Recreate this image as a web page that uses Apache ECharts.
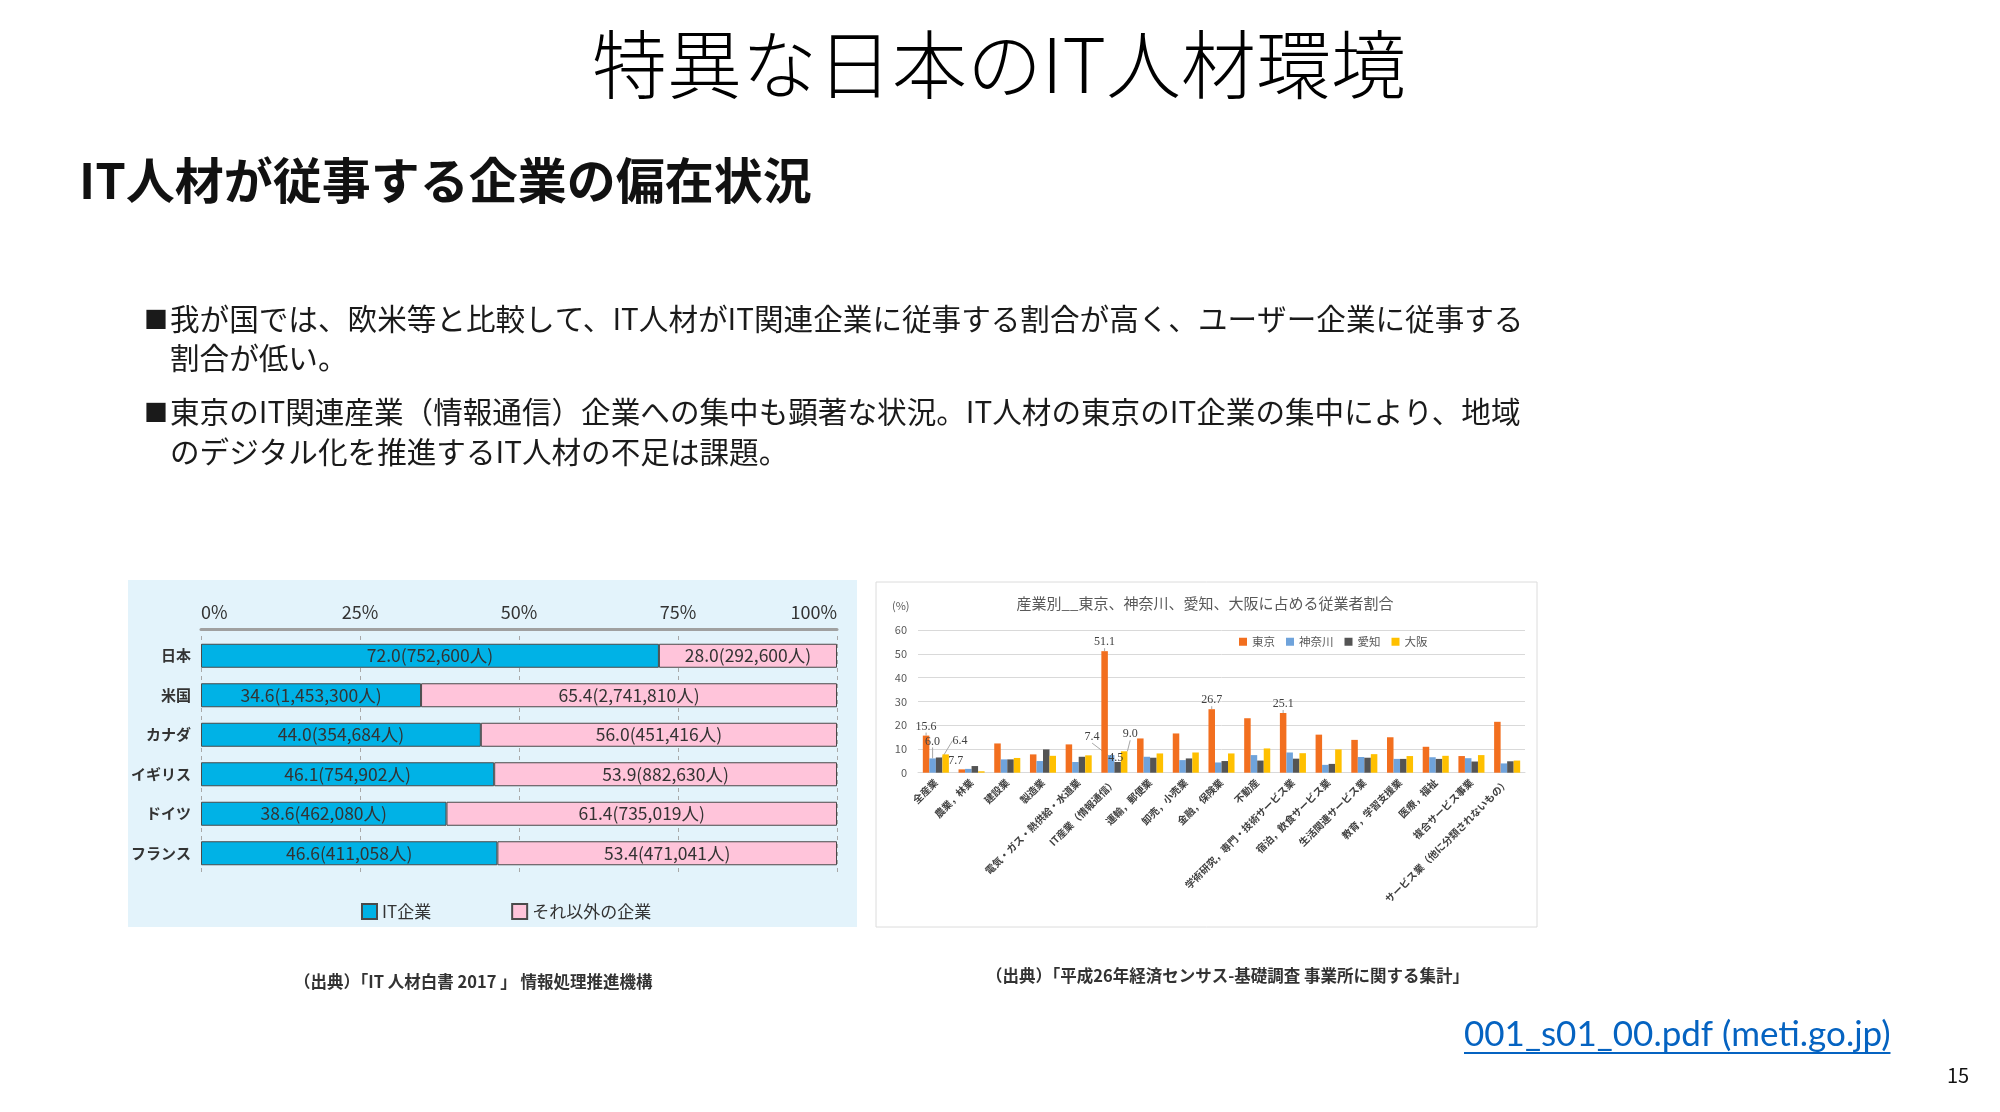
<!DOCTYPE html>
<html><head><meta charset="utf-8">
<script src="https://cdn.jsdelivr.net/npm/echarts@6/dist/echarts.min.js"></script>
<style>html,body{margin:0;padding:0;background:#fff;}#c{width:2000px;height:1112px;}</style>
</head><body><div id="c"></div>
<script>
// ---- Left chart data ----
const countries = ['日本','米国','カナダ','イギリス','ドイツ','フランス'];
const itShare = [72.0, 34.6, 44.0, 46.1, 38.6, 46.6];
const otherShare = [28.0, 65.4, 56.0, 53.9, 61.4, 53.4];
const itPeople = ['752,600','1,453,300','354,684','754,902','462,080','411,058'];
const otherPeople = ['292,600','2,741,810','451,416','882,630','735,019','471,041'];
const leftSeriesNames = ['IT企業','それ以外の企業'];

// ---- Right chart data ----
const industries = ['全産業','農業，林業','建設業','製造業','電気・ガス・熱供給・水道業','IT産業（情報通信）','運輸，郵便業','卸売，小売業','金融，保険業','不動産','学術研究，専門・技術サービス業','宿泊，飲食サービス業','生活関連サービス業','教育，学習支援業','医療，福祉','複合サービス事業','サービス業（他に分類されないもの）'];
const tokyo    = [15.6, 1.4, 12.3, 7.7, 11.9, 51.1, 14.4, 16.5, 26.7, 22.9, 25.1, 16.0, 13.8, 14.9, 10.9, 7.0, 21.4];
const kanagawa = [6.0, 1.6, 5.6, 4.9, 4.5, 7.4, 6.7, 5.3, 4.3, 7.4, 8.5, 3.3, 6.6, 5.8, 6.5, 6.1, 3.9];
const aichi    = [6.4, 2.8, 5.6, 9.8, 6.7, 4.5, 6.3, 6.0, 4.9, 5.1, 5.9, 3.7, 6.3, 5.8, 5.8, 4.7, 4.8];
const osaka    = [7.7, 0.6, 6.2, 7.1, 7.3, 9.0, 8.1, 8.5, 8.1, 10.2, 8.2, 9.8, 7.8, 7.0, 7.1, 7.4, 5.1];
const prefNames = ['東京','神奈川','愛知','大阪'];
const labelledIdx = { '東京':[0,5,8,10], '神奈川':[0,5], '愛知':[0,5], '大阪':[0,5] };

const JP = '"Noto Sans CJK JP", sans-serif';
const LINK_TEXT = '001_s01_00.pdf (meti.go.jp)';
const LINK_FONT = '35px Lato, "Open Sans", sans-serif';

// label displacement (styling only)
const labelOffsets = {
  '神奈川': {0:[0,-8], 5:[-19,-9]},
  '愛知':   {0:[21,-8], 5:[-2,5]},
  '大阪':   {0:[10,15], 5:[6,-8]}
};

function mk(values, labelled) {
  return values.map((v, i) => labelled.indexOf(i) >= 0 ? {value: v, label: {show: true}} : v);
}

// underline length from the rendered text width
const mctx = document.createElement('canvas').getContext('2d');
mctx.font = LINK_FONT;
const linkW = mctx.measureText(LINK_TEXT).width;

const prefColors = ['#F26F1F', '#6FA3DB', '#545454', '#FFC000'];
const prefData = [tokyo, kanagawa, aichi, osaka];

const rightSeries = prefNames.map((name, k) => ({
  name: name, type: 'bar', xAxisIndex: 1, yAxisIndex: 1,
  data: mk(prefData[k], labelledIdx[name]),
  itemStyle: {color: prefColors[k]},
  barGap: '0%', barCategoryGap: '27%',
  label: {show: false, position: 'top', distance: 3, fontSize: 12, fontFamily: '"Liberation Serif", serif', color: '#404040',
          formatter: p => Number(p.value).toFixed(1)},
  labelLine: {show: true, lineStyle: {color: '#a6a6a6', width: 1}},
  labelLayout: p => {
    const o = labelOffsets[name] && labelOffsets[name][p.dataIndex];
    return o ? {dx: o[0], dy: o[1]} : {};
  }
}));

const chart = echarts.init(document.getElementById('c'), null, {width: 2000, height: 1112});

const option = {
  animation: false,
  backgroundColor: '#ffffff',
  graphic: [
    {type: 'rect', z: -1, shape: {x: 128, y: 580, width: 729, height: 347}, style: {fill: '#e3f3fb'}},
    {type: 'rect', z: -1, shape: {x: 876, y: 582, width: 661, height: 345}, style: {fill: '#ffffff', stroke: '#dcdcdc', lineWidth: 1}},
    {type: 'text', x: 999, y: 64, style: {text: '特異な日本のIT人材環境', font: '300 75px ' + JP, fill: '#000', textAlign: 'center', textVerticalAlign: 'middle'}},
    {type: 'text', x: 79, y: 180, style: {text: 'IT人材が従事する企業の偏在状況', font: 'bold 49px ' + JP, fill: '#111', textAlign: 'left', textVerticalAlign: 'middle'}},
    {type: 'text', x: 144, y: 319, style: {text: '■', font: '24px ' + JP, fill: '#1a1a1a', textAlign: 'left', textVerticalAlign: 'middle'}},
    {type: 'text', x: 170, y: 319, style: {text: '我が国では、欧米等と比較して、IT人材がIT関連企業に従事する割合が高く、ユーザー企業に従事する', font: '29.6px ' + JP, fill: '#1a1a1a', textAlign: 'left', textVerticalAlign: 'middle'}},
    {type: 'text', x: 170, y: 358, style: {text: '割合が低い。', font: '29.6px ' + JP, fill: '#1a1a1a', textAlign: 'left', textVerticalAlign: 'middle'}},
    {type: 'text', x: 144, y: 412, style: {text: '■', font: '24px ' + JP, fill: '#1a1a1a', textAlign: 'left', textVerticalAlign: 'middle'}},
    {type: 'text', x: 170, y: 412, style: {text: '東京のIT関連産業（情報通信）企業への集中も顕著な状況。IT人材の東京のIT企業の集中により、地域', font: '29.6px ' + JP, fill: '#1a1a1a', textAlign: 'left', textVerticalAlign: 'middle'}},
    {type: 'text', x: 170, y: 452, style: {text: 'のデジタル化を推進するIT人材の不足は課題。', font: '29.6px ' + JP, fill: '#1a1a1a', textAlign: 'left', textVerticalAlign: 'middle'}},
    {type: 'text', x: 1205, y: 603, style: {text: '産業別__東京、神奈川、愛知、大阪に占める従業者割合', font: '15px ' + JP, fill: '#595959', textAlign: 'center', textVerticalAlign: 'middle'}},
    {type: 'text', x: 892, y: 606, style: {text: '(%)', font: '11px ' + JP, fill: '#595959', textAlign: 'left', textVerticalAlign: 'middle'}},
    {type: 'text', x: 294, y: 982, style: {text: '（出典）「IT 人材白書 2017 」 情報処理推進機構', font: 'bold 16.5px ' + JP, fill: '#333', textAlign: 'left', textVerticalAlign: 'middle'}},
    {type: 'text', x: 986, y: 976, style: {text: '（出典）「平成26年経済センサス-基礎調査 事業所に関する集計」', font: 'bold 16.5px ' + JP, fill: '#333', textAlign: 'left', textVerticalAlign: 'middle'}},
    {type: 'text', x: 1464, y: 1035, style: {text: LINK_TEXT, font: LINK_FONT, fill: '#0563C1', textAlign: 'left', textVerticalAlign: 'middle'}},
    {type: 'line', shape: {x1: 1464, y1: 1053, x2: 1464 + linkW, y2: 1053}, style: {stroke: '#0563C1', lineWidth: 2}},
    {type: 'text', x: 1958, y: 1075, style: {text: '15', font: '20px ' + JP, fill: '#111', textAlign: 'center', textVerticalAlign: 'middle'}}
  ],
  legend: [
    {data: leftSeriesNames, left: 356, top: 898, icon: 'rect', itemWidth: 15, itemHeight: 15, itemGap: 80,
     textStyle: {fontSize: 17, color: '#333', fontFamily: JP}},
    {data: prefNames, left: 1234, top: 631, icon: 'rect', itemWidth: 8, itemHeight: 8, itemGap: 11,
     textStyle: {fontSize: 11.5, color: '#595959', fontFamily: JP}}
  ],
  grid: [
    {left: 201, width: 636, top: 636, height: 237, containLabel: false},
    {left: 918, width: 607, top: 630, height: 142.7, containLabel: false}
  ],
  xAxis: [
    {type: 'value', gridIndex: 0, min: 0, max: 100, interval: 25, position: 'top', offset: 7,
     axisLine: {show: true, lineStyle: {color: '#a0a0a0', width: 3}},
     axisTick: {show: false},
     axisLabel: {formatter: '{value}%', fontSize: 18, color: '#333', fontFamily: JP, margin: 8, alignMinLabel: 'left', alignMaxLabel: 'right'},
     splitLine: {show: true, lineStyle: {color: '#a8a8a8', type: [4, 4], width: 1}}},
    {type: 'category', gridIndex: 1, data: industries,
     axisLine: {show: true, lineStyle: {color: '#d9d9d9'}},
     axisTick: {show: false},
     axisLabel: {interval: 0, rotate: 45, fontSize: 10, fontWeight: 'bold', color: '#404040', fontFamily: JP, margin: 8}}
  ],
  yAxis: [
    {type: 'category', gridIndex: 0, data: countries, inverse: true,
     axisLine: {show: false}, axisTick: {show: false},
     axisLabel: {fontSize: 15, fontWeight: 'bold', color: '#333', fontFamily: JP, margin: 10}},
    {type: 'value', gridIndex: 1, min: 0, max: 60, interval: 10,
     axisLine: {show: false}, axisTick: {show: false},
     axisLabel: {fontSize: 11, color: '#595959', fontFamily: JP, margin: 11},
     splitLine: {lineStyle: {color: '#d9d9d9'}}}
  ],
  series: [
    {name: leftSeriesNames[0], type: 'bar', stack: 'share', xAxisIndex: 0, yAxisIndex: 0, data: itShare, barWidth: 24,
     itemStyle: {color: '#00B2E6', borderColor: '#4a4a4a', borderWidth: 1},
     label: {show: true, position: 'inside', fontSize: 17.5, color: '#333', fontFamily: JP,
             formatter: p => p.value.toFixed(1) + '(' + itPeople[p.dataIndex] + '人)'}},
    {name: leftSeriesNames[1], type: 'bar', stack: 'share', xAxisIndex: 0, yAxisIndex: 0, data: otherShare, barWidth: 24,
     itemStyle: {color: '#FFC4DA', borderColor: '#4a4a4a', borderWidth: 1},
     label: {show: true, position: 'inside', fontSize: 17.5, color: '#333', fontFamily: JP,
             formatter: p => p.value.toFixed(1) + '(' + otherPeople[p.dataIndex] + '人)'}}
  ].concat(rightSeries)
};
chart.setOption(option);
</script>
</body></html>
